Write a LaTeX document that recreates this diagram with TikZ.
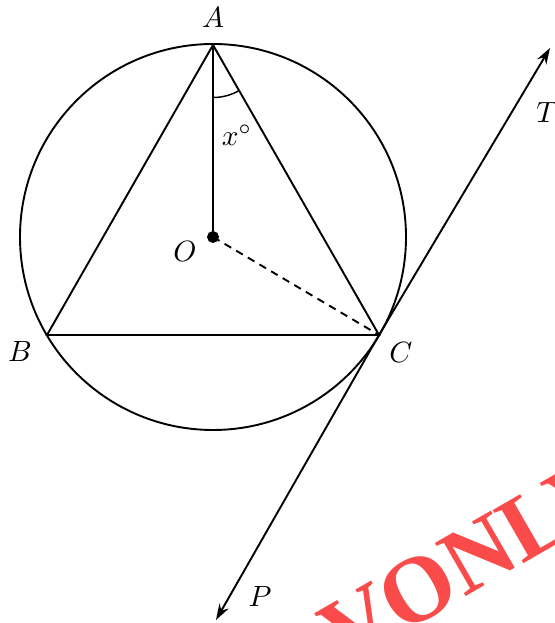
\documentclass[tikz,border=0pt]{standalone}
\usepackage{amsmath}
\usepackage{amssymb}
\usepackage{fontspec}
\usepackage{tikz}
\usetikzlibrary{arrows.meta}
\usetikzlibrary{quotes,angles}
\newfontfamily\wmfont{Liberation Serif}
\tikzstyle{vertex}=[draw=black,circle,fill=black,minimum size=3.4pt, inner sep=0pt, outer sep=0pt]
\tikzstyle{lbl}=[inner sep=0pt, font=\normalsize]
\tikzstyle{ray}=[-{Stealth[length=5.5pt,width=3.6pt]}]

\begin{document}
\begin{tikzpicture}[x=0.012cm,y=0.012cm,line width=0.65pt]
\useasboundingbox (0,0) rectangle (554,623);
\clip (0,0) rectangle (554,623);
\coordinate (O) at (213,386);
\coordinate (A) at (213,578);
\coordinate (B) at (47,288);
\coordinate (C) at (379,288);
\coordinate (T) at (550,575);
\coordinate (P) at (216,3);
\draw (O) circle (193);
\draw (A) -- (B) -- (C) -- cycle;
\draw (A) -- (O);
\draw[dash pattern=on 2.6pt off 2pt] (O) -- (C);
\draw[ray] (C) -- (T);
\draw[ray] (C) -- (P);
\pic [draw, line width=0.5pt, angle radius=0.63cm] {angle=O--A--C};
\node[vertex] (o) at (O) {};
\node[lbl] (lA) at (213,605) {$A$};
\node[lbl] (lx) at (237,488) {$x^{\circ}$};
\node[lbl] (lO) at (185,372) {$O$};
\node[lbl] (lB) at (20,272) {$B$};
\node[lbl] (lC) at (401,271) {$C$};
\node[lbl] (lT) at (547,510) {$T$};
\node[lbl] (lP) at (260,27) {$P$};
% watermark
\node[text={rgb,255:red,250;green,75;blue,75}, font=\wmfont\bfseries\fontsize{32}{32}\selectfont, rotate=30] (wm) at (471,64) {VONLY};
\end{tikzpicture}
\end{document}
